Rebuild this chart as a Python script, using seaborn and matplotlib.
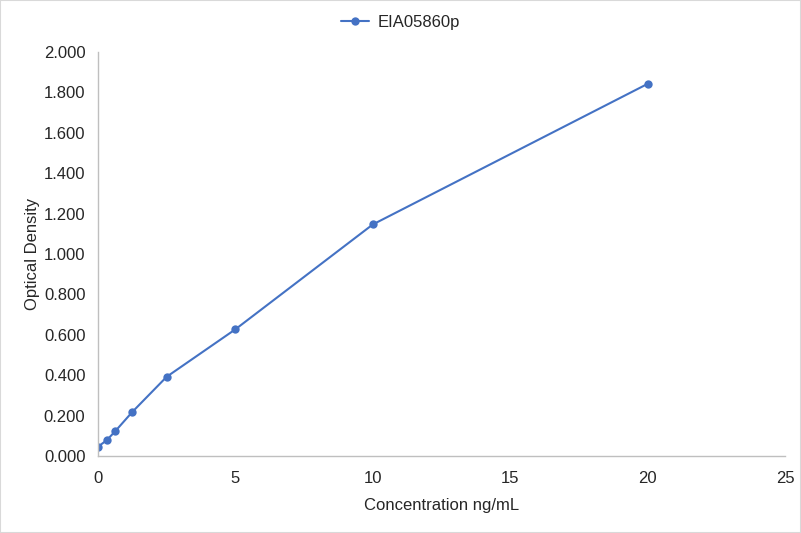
import matplotlib
matplotlib.use('Agg')
import matplotlib.pyplot as plt
import seaborn as sns
import pandas as pd

conc = [0, 0.312, 0.625, 1.25, 2.5, 5, 10, 20]
od = [0.046, 0.077, 0.122, 0.218, 0.392, 0.627, 1.146, 1.842]
series_name = 'EIA05860p'

df = pd.DataFrame({'conc': conc, 'od': od})

sns.set_style('white')
plt.rcParams['font.family'] = ['Liberation Sans', 'DejaVu Sans']

fig = plt.figure(figsize=(8.01, 5.33), dpi=100)
ax = fig.add_axes([0.1223, 0.1445, 0.8577, 0.758])
sns.lineplot(data=df, x='conc', y='od', marker='o', color='#4472C4', linewidth=1.5,
             markersize=6, markeredgewidth=0, label=series_name, ax=ax, legend=False)

ax.set_xlim(0, 25)
ax.set_ylim(0, 2.0)
ax.set_xticks([0, 5, 10, 15, 20, 25])
ax.set_yticks([i * 0.2 for i in range(11)])
ax.set_yticklabels([f'{i * 0.2:.3f}' for i in range(11)])
ax.tick_params(axis='y', labelsize=12, length=0, pad=9, labelcolor='#262626')
ax.tick_params(axis='x', labelsize=12, length=0, pad=10.5, labelcolor='#262626')
ax.set_xlabel('Concentration ng/mL', fontsize=12, labelpad=9, color='#262626')
ax.set_ylabel('Optical Density', fontsize=12, labelpad=3, color='#262626')

for s in ['top', 'right']:
    ax.spines[s].set_visible(False)
for s in ['left', 'bottom']:
    ax.spines[s].set_color('#BFBFBF')
    ax.spines[s].set_linewidth(1)

handles, labels = ax.get_legend_handles_labels()
fig.legend(handles, labels, loc='center', bbox_to_anchor=(0.5, 1 - 22 / 533), frameon=False,
           fontsize=12, handlelength=1.7, handletextpad=0.5, labelcolor='#262626')

border = plt.Rectangle((0, 0), 1, 1, transform=fig.transFigure, fill=False,
                       edgecolor='#D9D9D9', linewidth=1.5)
fig.patches.append(border)

fig.savefig('out.png', dpi=100)
